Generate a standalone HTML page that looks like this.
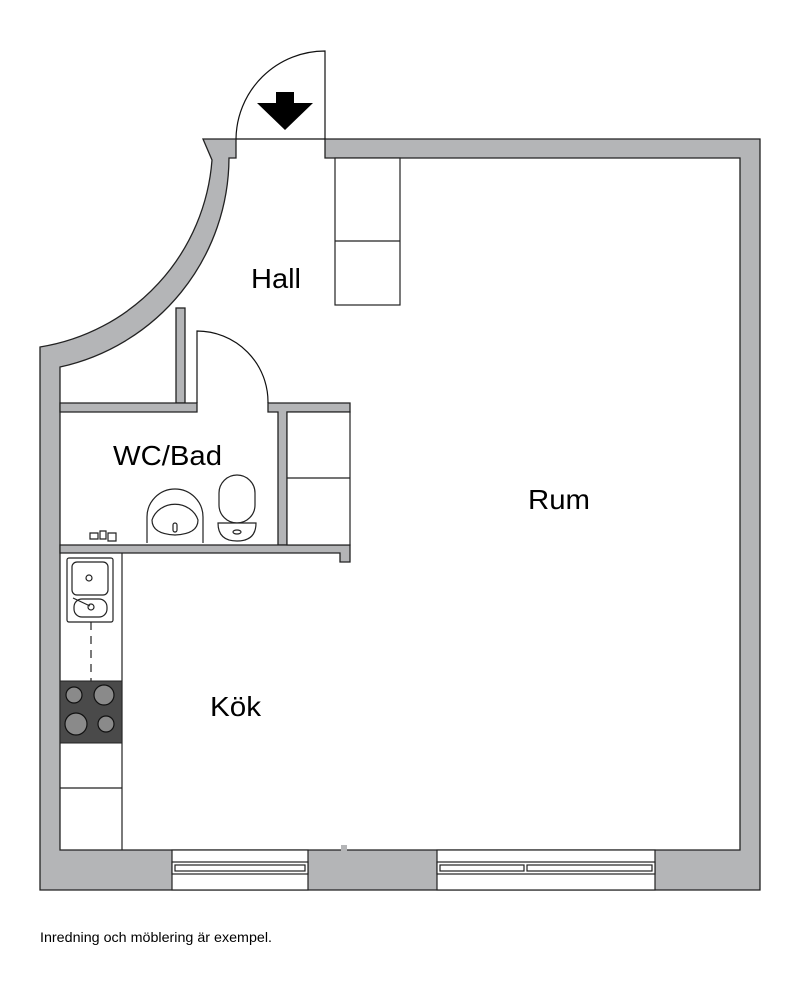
<!DOCTYPE html>
<html><head><meta charset="utf-8"><style>
html,body{margin:0;padding:0;background:#fff;}
svg{display:block}
text{font-family:"Liberation Sans",sans-serif;fill:#000}
</style></head><body>
<svg width="800" height="994" viewBox="0 0 800 994" xmlns="http://www.w3.org/2000/svg">
<g stroke="#222" stroke-width="1.3" fill="#b4b5b7">
<path d="M325,139 H760 V890 H40 V347 A205,205 0 0 0 212,160 L203,139 H236 V158 H229 A215,215 0 0 1 60,367 V850 H740 V158 H325 Z"/>
<rect x="176" y="308" width="9" height="95"/>
<path d="M60,403 H197 V412 H60 Z"/>
<path d="M268,403 H350 V412 H287 V545 H278 V412 H268 Z"/>
<path d="M60,545 H350 V562 H340 V553 H60 Z"/>
</g>
<g stroke="#222" stroke-width="1.2">
<rect x="172" y="850" width="136" height="40" fill="#fff"/>
<rect x="437" y="850" width="218" height="40" fill="#fff"/>
<rect x="172" y="862" width="136" height="12" fill="#fff"/>
<rect x="175" y="865" width="130" height="6" fill="#fff"/>
<rect x="437" y="862" width="218" height="12" fill="#fff"/>
<rect x="440" y="865" width="84" height="6" fill="#fff"/>
<rect x="527" y="865" width="125" height="6" fill="#fff"/>
<rect x="341" y="845" width="6" height="6" fill="#b4b5b7" stroke="none"/>
</g>
<g fill="none" stroke="#111" stroke-width="1.2">
<line x1="236" y1="139" x2="325" y2="139"/>
<path d="M325,139 V51 A89,89 0 0 0 236,139"/>
<path d="M197,403 V331 A71,71 0 0 1 268,403"/>
</g>
<polygon points="276,92 294,92 294,103 313,103 285,130 257,103 276,103" fill="#000"/>
<g fill="#fff" stroke="#222" stroke-width="1.2">
<rect x="335" y="158" width="65" height="147"/>
<line x1="335" y1="241" x2="400" y2="241"/>
<rect x="287" y="412" width="63" height="133"/>
<line x1="287" y1="478" x2="350" y2="478"/>
</g>
<g fill="none" stroke="#222" stroke-width="1.2">
<line x1="122" y1="553" x2="122" y2="850"/>
<line x1="60" y1="788" x2="122" y2="788"/>
<line x1="91" y1="622" x2="91" y2="681" stroke-dasharray="8,6"/>
<rect x="67" y="558" width="46" height="64" rx="2"/>
<rect x="72" y="562" width="36" height="33" rx="5"/>
<rect x="74" y="599" width="33" height="18" rx="8"/>
<circle cx="89" cy="578" r="3"/>
<circle cx="91" cy="607" r="3"/>
<line x1="73" y1="598" x2="90" y2="606"/>
</g>
<rect x="60" y="681" width="62" height="62" fill="#4a4a4a" stroke="#222"/>
<g fill="#8a8a8a" stroke="#111" stroke-width="1.2">
<circle cx="74" cy="695" r="8"/><circle cx="104" cy="695" r="10"/>
<circle cx="76" cy="724" r="11"/><circle cx="106" cy="724" r="8"/>
</g>
<g fill="#fff" stroke="#222" stroke-width="1.2">
<path d="M147,543 V517 A28,28 0 0 1 203,517 V543"/>
<path d="M152,520 A24,22 0 0 1 198,520 Q198,534 175,535 Q152,534 152,520 Z"/>
<rect x="173" y="523" width="4" height="9" rx="2"/>
<rect x="219" y="475" width="36" height="48" rx="18"/>
<path d="M218,523 H256 Q256,541 237,541 Q218,541 218,523 Z"/>
<ellipse cx="237" cy="532" rx="4" ry="2"/>
<path d="M90,533 h8 v6 h-8 z M100,531 h6 v8 h-6 z M108,533 h8 v8 h-8 z"/>
</g>
<text x="251" y="288" font-size="28" textLength="50" lengthAdjust="spacingAndGlyphs">Hall</text>
<text x="113" y="465" font-size="28" textLength="109" lengthAdjust="spacingAndGlyphs">WC/Bad</text>
<text x="528" y="509" font-size="28" textLength="62" lengthAdjust="spacingAndGlyphs">Rum</text>
<text x="210" y="716" font-size="28" textLength="51" lengthAdjust="spacingAndGlyphs">Kök</text>
<text x="40" y="942" font-size="13.5" textLength="232" lengthAdjust="spacingAndGlyphs">Inredning och möblering är exempel.</text>
</svg>
</body></html>
